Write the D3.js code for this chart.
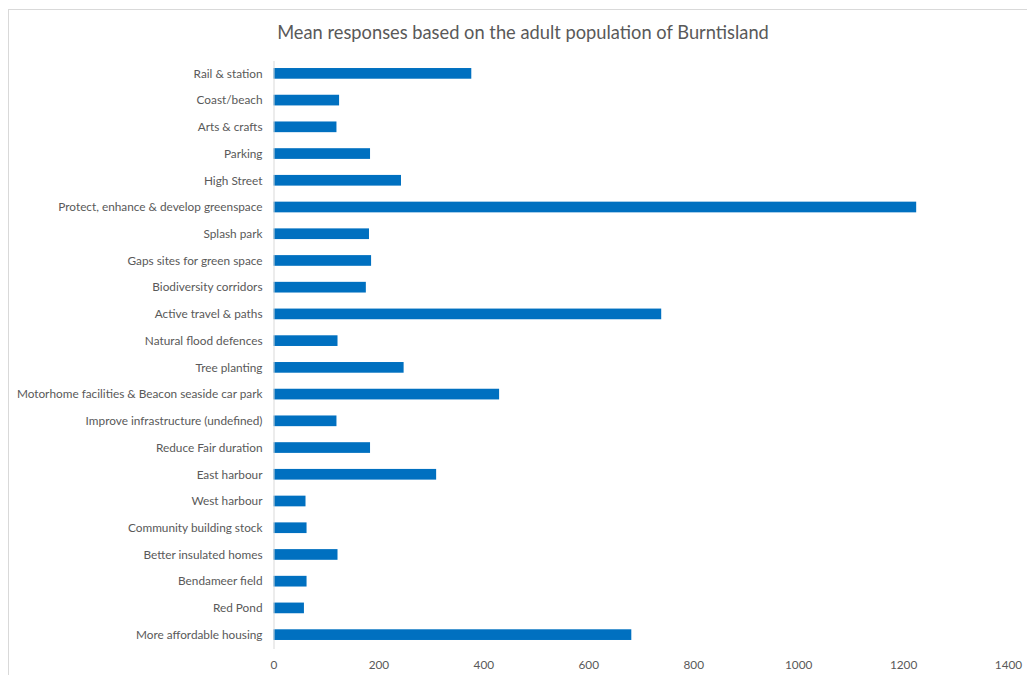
<!DOCTYPE html>
<html>
<head>
<meta charset="utf-8">
<script src="https://cdn.jsdelivr.net/npm/d3@7"></script>
<style>
  html, body { margin: 0; padding: 0; background: #fff; }
  svg { display: block; font-family: Lato, "Liberation Sans", sans-serif; }
</style>
</head>
<body>
<svg id="chart" width="1027" height="675"></svg>
<script>
// Mean responses per topic, adult population of Burntisland
const categories = [
  "Rail & station",
  "Coast/beach",
  "Arts & crafts",
  "Parking",
  "High Street",
  "Protect, enhance & develop greenspace",
  "Splash park",
  "Gaps sites for green space",
  "Biodiversity corridors",
  "Active travel & paths",
  "Natural flood defences",
  "Tree planting",
  "Motorhome facilities & Beacon seaside car park",
  "Improve infrastructure (undefined)",
  "Reduce Fair duration",
  "East harbour",
  "West harbour",
  "Community building stock",
  "Better insulated homes",
  "Bendameer field",
  "Red Pond",
  "More affordable housing"
];
const values = [377, 125, 120, 184, 243, 1225, 182, 186, 176, 739, 122, 248, 430, 120, 184, 310, 61, 63, 122, 63, 58, 682];
const xTicks = [0, 200, 400, 600, 800, 1000, 1200, 1400];
const title = "Mean responses based on the adult population of Burntisland";

const svg = d3.select("#chart");
const plot = { left: 273.5, right: 1008, top: 60, bottom: 648 };

// chart frame
svg.append("rect")
  .attr("x", 8.5).attr("y", 9.5)
  .attr("width", 1040).attr("height", 700)
  .attr("fill", "#fff").attr("stroke", "#d9d9d9").attr("stroke-width", 1);

svg.append("text")
  .attr("x", 523).attr("y", 39)
  .attr("text-anchor", "middle")
  .attr("fill", "#595959")
  .style("font-size", "18.3px")
  .text(title);

const x = d3.scaleLinear().domain([0, 1400]).range([plot.left, plot.right]);
const y = d3.scaleBand().domain(categories)
  .range([plot.top, plot.bottom])
  .paddingInner(0.6).paddingOuter(0.3);

// bars
svg.append("g").selectAll("rect")
  .data(categories.map((c, i) => ({ c, v: values[i] })))
  .join("rect")
  .attr("x", x(0))
  .attr("y", d => y(d.c))
  .attr("width", d => x(d.v) - x(0))
  .attr("height", y.bandwidth())
  .attr("fill", "#0070c0");

// category axis
const yAxis = svg.append("g")
  .attr("transform", `translate(${plot.left},0.5)`)
  .call(d3.axisLeft(y).tickSize(0).tickPadding(11));
yAxis.select(".domain").attr("stroke", "#d9d9d9");
yAxis.selectAll("text")
  .attr("fill", "#595959")
  .style("font-size", "11.8px")
  .style("font-family", "Lato, 'Liberation Sans', sans-serif");

// value axis (labels only)
const xAxis = svg.append("g")
  .attr("transform", `translate(0,${plot.bottom})`)
  .call(d3.axisBottom(x).tickValues(xTicks).tickSize(0).tickPadding(13).tickFormat(d3.format("d")));
xAxis.select(".domain").remove();
xAxis.selectAll("text")
  .attr("fill", "#595959")
  .style("font-size", "11.8px")
  .style("font-family", "Lato, 'Liberation Sans', sans-serif");
</script>
</body>
</html>
